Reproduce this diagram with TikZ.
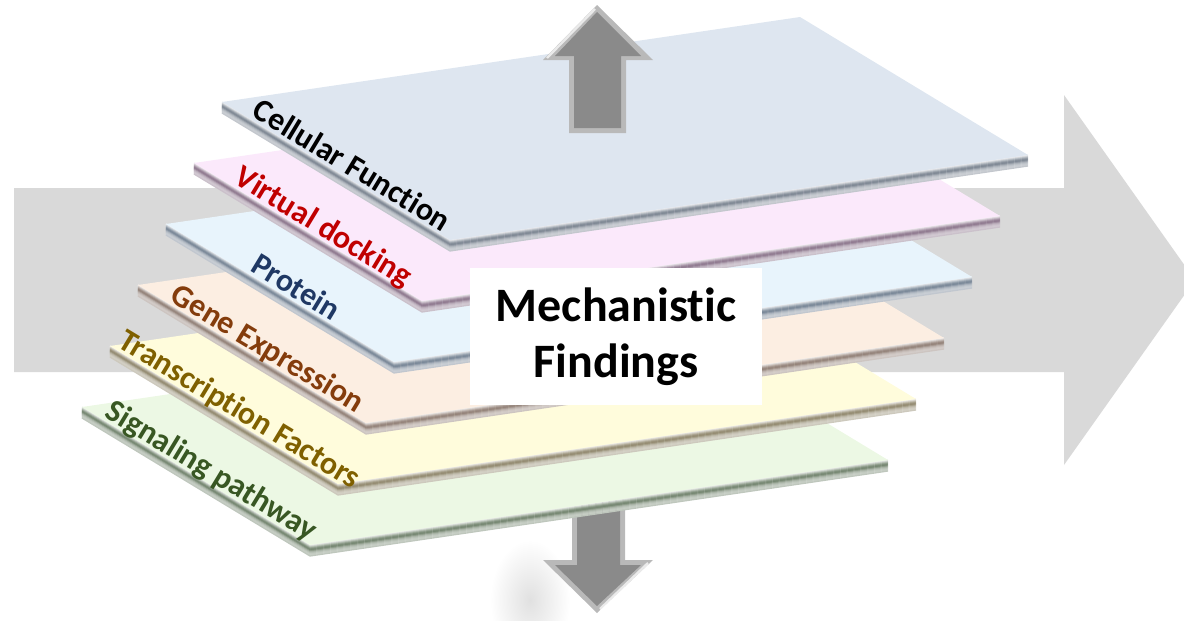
\documentclass[tikz,border=0pt]{standalone}
\usepackage{fontspec}
\setmainfont{Carlito}[Ligatures=NoCommon]
\usetikzlibrary{calc}
\definecolor{bigarrow}{RGB}{217,217,217}
\definecolor{arrowgray}{RGB}{138,138,138}
\definecolor{arrowlight}{RGB}{185,185,185}
\definecolor{cellface}{RGB}{222,230,240}
\definecolor{celledge}{RGB}{105,116,130}
\definecolor{dockface}{RGB}{251,233,251}
\definecolor{dockedge}{RGB}{125,100,125}
\definecolor{protface}{RGB}{232,244,252}
\definecolor{protedge}{RGB}{100,116,135}
\definecolor{geneface}{RGB}{252,238,226}
\definecolor{geneedge}{RGB}{130,110,100}
\definecolor{tfface}{RGB}{255,252,220}
\definecolor{tfedge}{RGB}{130,120,90}
\definecolor{sigface}{RGB}{236,248,228}
\definecolor{sigedge}{RGB}{95,115,90}
\definecolor{celltext}{RGB}{0,0,0}
\definecolor{docktext}{RGB}{192,0,0}
\definecolor{prottext}{RGB}{31,56,100}
\definecolor{genetext}{RGB}{132,60,12}
\definecolor{tftext}{RGB}{127,96,0}
\definecolor{sigtext}{RGB}{56,87,35}

\tikzset{
  layerlabel/.style={font=\fontsize{16}{18}\selectfont\bfseries, anchor=base, rotate=-31.2, inner sep=0pt},
  findings/.style={fill=white, font=\fontsize{24}{28}\selectfont\bfseries, align=center, minimum width=146pt, minimum height=68.5pt, inner sep=0pt}
}

\begin{document}
\begin{tikzpicture}[x=0.5pt, y=-0.5pt, line join=round]
  \clip (0,0) rectangle (1184,621);

  % background arrow
  \fill[bigarrow] (14,188) -- (1064,188) -- (1064,95) -- (1195,280) -- (1064,465) -- (1064,372) -- (14,372) -- cycle;

  % down arrow with its shadow
  \shade[inner color=black!12, outer color=white] (530,600) ellipse (40 and 60);
  \fill[arrowlight] (572,480) -- (625,480) -- (625,560) -- (653,560) -- (597,613) -- (543,560) -- (572,560) -- cycle;
  \fill[arrowgray] (577,480) -- (620,480) -- (620,565) -- (641,565) -- (597,606) -- (555,565) -- (577,565) -- cycle;
  \draw[white, opacity=.7, line width=1.2pt] (600,609) -- (648,563);

  % layers, from bottom to top
  \foreach \i/\face/\edge/\txt/\tcol in {
      5/sigface/sigedge/Signaling pathway/sigtext,
      4/tfface/tfedge/Transcription Factors/tftext,
      3/geneface/geneedge/Gene Expression/genetext,
      2/protface/protedge/Protein/prottext,
      1/dockface/dockedge/Virtual docking/docktext,
      0/cellface/celledge/Cellular Function/celltext}{
    \coordinate (A\i) at ({222-28*\i},{102+61*\i});
    \coordinate (B\i) at ($(A\i)+(578,-85)$);
    \coordinate (D\i) at ($(A\i)+(228,138)$);
    \coordinate (C\i) at ($(D\i)+(578,-85)$);
    \foreach \k/\p in {0/10,1/25,2/45,3/65,4/80,5/85,6/72,7/55,8/45,9/38,10/35,11/40}{
      \draw[\edge!\p!white, line width=0.65pt] ($(A\i)+(0,\k)$) -- ($(D\i)+(0,\k)$) -- ($(C\i)+(0,\k)$);
    }
    \fill[\face] (A\i) -- (B\i) -- (C\i) -- (D\i) -- cycle;
    \node[layerlabel, text=\tcol] (lbl\i) at ($(A\i)!.54!(D\i)!1.5pt!90:(D\i)$) {\txt};
  }

  % up arrow
  \fill[arrowlight] (597,5) -- (653,60) -- (626,60) -- (626,133) -- (569,133) -- (569,60) -- (543,60) -- cycle;
  \fill[arrowgray] (597,12) -- (641,56) -- (621,56) -- (621,128) -- (574,128) -- (574,56) -- (555,56) -- cycle;
  \draw[white, opacity=.7, line width=1.2pt] (547,58) -- (595,9);

  \node[findings] (mech) at (616,336.5) {Mechanistic\\Findings};
\end{tikzpicture}
\end{document}
